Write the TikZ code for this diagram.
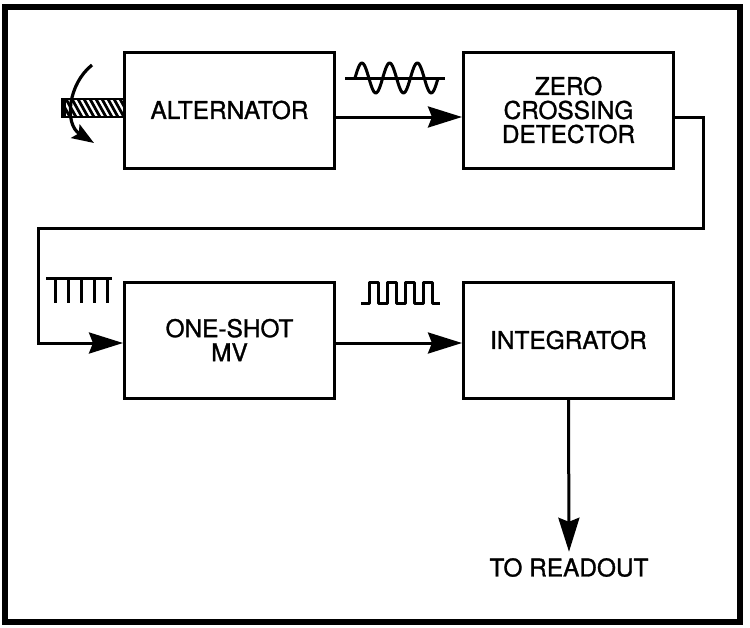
\documentclass[tikz,border=0pt]{standalone}
\usepackage{fontspec}
\setmainfont{TeX Gyre Heros}[FakeBold=1.2]
\usetikzlibrary{arrows.meta, positioning, calc}

\tikzset{
  blk/.style={draw, line width=1.5pt, minimum width=105pt, minimum height=58pt, align=center, font=\fontsize{12.2}{12}\selectfont},
  sig/.style={line width=1.5pt, -{Stealth[length=17pt, width=10.5pt, inset=2pt]}},
  wave/.style={line width=1.5pt, line join=round}
}

\begin{document}
\begin{tikzpicture}[x=0.5pt, y=-0.5pt]
      \useasboundingbox (0,0) rectangle (750,627);
      \draw[line width=2.8pt] (5,7) rectangle (740,622);

      \node[blk] (alt) at (229.5,110) {ALTERNATOR};
      \node[blk, right=63pt of alt] (zcd) {ZERO\\CROSSING\\DETECTOR};
      \node[blk, below=55.5pt of alt] (osm) {ONE-SHOT\\MV};
      \node[blk, right=63pt of osm] (integ) {INTEGRATOR};
      \node[inner sep=3pt, font=\fontsize{12.2}{12}\selectfont] (out) at (569,567.5) {TO READOUT};

      \coordinate (rt) at (703,228);
      \coordinate (lt) at (38,228);
      \draw[sig] ([yshift=-3.5pt]alt.east) -- ([yshift=-3.5pt]zcd.west);
      \draw[sig] ([yshift=-3.5pt]zcd.east) -| (rt) -- (lt) |- ([yshift=-1.5pt]osm.west);
      \draw[sig] ([yshift=-1.5pt]osm.east) -- ([yshift=-1.5pt]integ.west);
      \draw[sig] (integ.south) -- (out.north);

      \begin{scope}
        \clip (62,99) rectangle (124,117);
        \foreach \hx in {48,54,...,126}
          \draw[line width=1.4pt] (\hx,99) -- (\hx+10,117);
        \fill (62,99) rectangle (66,117);
      \end{scope}
      \draw[line width=1pt] (62,99) rectangle (124,117);
      \draw[line width=1.6pt, -{Stealth[length=11pt, width=8pt, inset=2pt]}] (92,65) .. controls (68,84) and (64,124) .. (94,143);

      \draw[wave] (345,78) -- (445,78);
      \draw[wave] plot[domain=0:3, samples=90, smooth] ({355+27.7*\x},{78-15*sin(360*\x)});

      \draw[wave] (46,278) -- (112,278);
      \foreach \sx in {55,68,81,94,107}
        \draw[wave] (\sx,278) -- (\sx,303);

      \draw[wave] (361,303) -| (369,282) -| (378,303) -| (387,282) -| (396,303)
        -| (405,282) -| (414,303) -| (423,282) -| (432,303) -- (440,303);
\end{tikzpicture}
\end{document}
